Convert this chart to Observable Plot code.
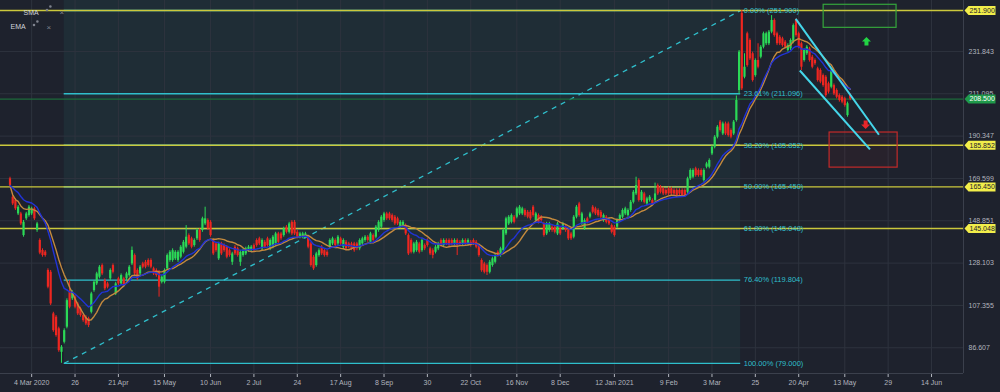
<!DOCTYPE html>
<html><head><meta charset="utf-8">
<script src="https://cdn.jsdelivr.net/npm/d3@7"></script>
<script src="https://cdn.jsdelivr.net/npm/@observablehq/plot@0.6"></script>
<style>
html,body{margin:0;padding:0;background:#1e222d;overflow:hidden;}
#chart svg{display:block}
</style></head><body><div id="chart"></div>
<script>
// ---- Data (candle index 0 = first session shown) ----
const open=[169.4,160.4,158.8,152.2,152.2,141.6,149.8,151.4,152.2,154.7,
144.1,139.2,134.3,133.5,124.5,123.6,103.2,101.6,95.9,84.4,
89.3,96.7,113.8,110.6,111.4,108.1,105.7,102.4,101.6,100.8,
104.0,114.6,117.9,121.2,126.9,119.5,117.9,120.4,126.9,113.0,
120.4,117.9,120.4,120.4,122.0,127.7,131.8,124.5,122.8,127.7,
128.5,129.4,129.4,125.3,124.5,123.6,118.7,118.7,125.3,129.4,
129.4,130.2,129.4,131.0,133.4,135.9,141.6,140.0,136.7,140.0,
144.1,144.1,147.3,149.0,148.1,139.2,137.5,130.2,137.5,136.7,
135.9,134.2,128.5,135.9,135.1,128.5,131.8,132.6,134.2,134.2,
136.7,139.2,140.0,135.1,138.3,140.0,135.1,135.9,137.5,142.4,
142.4,141.6,145.7,143.2,148.1,148.1,143.2,140.8,140.8,140.8,
140.8,137.5,131.0,126.9,131.8,135.9,134.2,133.4,135.9,137.5,
139.2,137.5,140.0,135.9,138.3,137.5,137.5,137.5,137.5,135.1,
137.5,139.2,140.8,138.3,141.6,140.8,144.1,145.7,149.0,152.2,
152.2,151.4,150.6,149.8,145.7,146.5,146.5,141.6,139.2,133.4,
134.2,137.5,134.2,136.7,139.2,135.1,134.2,133.4,135.1,139.2,
136.7,139.2,139.2,139.2,137.5,139.2,138.3,137.5,139.2,137.5,
138.3,139.2,138.3,136.7,129.4,127.7,126.9,123.6,126.9,128.5,
133.4,131.8,134.2,142.4,147.3,148.1,150.6,150.6,152.2,152.2,
153.9,153.0,153.0,155.5,149.0,151.4,150.6,147.3,142.4,144.1,
145.7,145.7,142.4,144.9,144.9,145.7,144.1,142.4,140.8,150.6,
157.1,147.3,144.9,149.8,150.6,155.5,154.7,153.9,153.0,149.0,
150.6,149.0,146.5,145.7,145.7,149.0,150.6,152.2,151.4,153.9,
157.9,162.0,168.6,158.8,162.0,157.1,158.8,158.8,158.8,166.1,
165.3,164.5,163.7,164.5,164.5,163.7,163.7,163.7,163.7,163.7,
162.8,169.4,170.2,174.3,173.5,173.5,168.6,175.1,175.1,181.6,
184.9,189.8,197.2,191.4,196.3,196.3,193.1,191.4,198.0,212.7,
250.5,219.2,240.5,237.2,230.7,220.0,227.4,229.0,233.9,235.6,
235.6,241.3,247.0,240.5,238.8,238.0,236.4,232.3,233.1,236.4,
247.0,240.5,235.6,227.4,230.7,233.1,229.0,227.4,223.3,222.5,
220.0,219.2,216.0,214.3,215.1,212.7,210.2,209.4,208.6,200.4,
210.2];
const close=[166.1,157.1,154.7,155.5,147.3,148.1,152.2,155.5,154.7,149.8,
147.3,133.0,131.8,131.8,116.3,108.1,95.0,92.6,85.2,86.9,
95.0,109.7,106.5,113.8,106.5,103.2,102.4,99.9,98.3,97.5,
113.0,118.7,122.8,126.1,122.8,115.5,116.3,124.5,123.6,117.9,
117.9,122.0,117.1,122.8,126.1,134.3,122.8,120.4,126.1,126.1,
126.1,126.9,126.1,122.8,122.0,116.3,121.2,124.5,131.8,133.4,
134.2,133.4,133.4,135.9,138.3,140.8,137.5,135.9,139.2,144.1,
139.2,149.8,149.8,144.9,141.6,132.6,134.2,137.5,132.6,134.2,
131.0,131.8,132.6,132.6,131.8,133.4,134.2,135.1,135.9,135.9,
134.2,136.7,137.5,139.2,135.9,136.7,139.2,140.8,142.4,138.3,
140.0,144.9,143.2,147.3,142.4,142.4,140.8,142.4,142.4,142.4,
135.9,126.9,125.3,132.6,134.2,132.6,131.8,131.8,139.2,140.0,
136.7,140.8,137.5,139.2,135.1,135.9,135.1,134.2,135.1,139.2,
140.0,140.8,139.2,142.4,139.2,145.7,148.1,150.6,152.2,149.8,
149.8,149.0,147.3,147.3,148.1,148.1,142.4,132.6,133.4,137.5,
138.3,133.4,139.2,135.1,136.7,132.6,131.8,135.9,137.5,136.7,
139.2,137.5,136.7,137.5,139.2,136.7,137.5,139.2,137.5,139.2,
136.7,137.5,135.9,131.8,124.4,123.6,123.6,128.5,130.2,131.8,
131.8,135.1,144.1,149.8,150.6,151.4,148.1,154.7,155.5,154.7,
151.4,150.6,149.8,151.4,152.2,148.1,149.0,141.6,147.3,147.3,
144.1,143.2,147.3,142.4,147.3,144.1,140.0,140.0,150.6,155.5,
151.4,152.2,148.9,148.1,152.2,153.0,152.2,151.4,150.6,151.4,
148.1,147.3,143.2,141.6,149.0,151.4,153.9,154.7,153.9,157.9,
162.8,166.1,158.8,162.8,157.9,159.6,160.4,157.1,162.0,162.0,
162.8,162.0,162.0,162.0,162.0,162.0,161.2,162.0,161.2,161.2,
169.4,173.5,173.5,171.0,171.0,171.0,173.5,176.7,178.4,184.9,
189.8,194.7,193.1,196.3,191.4,190.6,189.8,197.2,207.8,231.5,
213.5,224.1,224.9,228.2,217.6,227.4,224.1,233.9,240.5,240.5,
241.3,247.0,239.6,235.6,235.6,234.7,233.9,234.7,237.2,244.5,
239.6,233.9,224.1,232.3,233.9,227.4,224.1,225.8,217.6,216.8,
215.1,210.2,211.9,222.5,211.0,209.4,207.8,207.0,205.3,206.2,
208.5];
const high=[170.2,161.2,159.6,156.3,153.0,149.0,153.0,156.3,155.5,155.5,
148.1,140.0,135.1,134.3,125.3,124.5,104.0,102.4,96.7,87.7,
95.9,110.6,119.5,114.6,112.2,108.9,106.5,103.2,102.4,101.6,
113.8,119.5,123.6,126.9,127.7,120.4,118.7,125.3,127.7,118.7,
121.2,122.8,121.2,123.6,126.9,136.0,132.6,125.3,126.9,128.5,
129.4,130.2,130.2,126.1,125.3,124.5,122.0,125.3,132.6,134.2,
135.1,134.2,134.2,136.7,139.2,146.5,142.4,140.8,140.0,144.9,
144.9,150.6,155.5,149.8,148.9,140.0,138.3,138.3,138.3,137.5,
136.7,135.1,133.4,136.7,135.9,134.2,135.1,135.9,136.7,136.7,
137.5,140.0,140.8,140.0,139.2,140.8,140.0,141.6,143.2,143.2,
143.2,145.7,146.5,148.1,148.9,149.0,144.1,143.2,143.2,143.2,
141.6,138.3,131.8,133.4,135.1,136.7,135.1,134.2,140.0,140.8,
140.0,141.6,140.8,140.0,139.2,138.3,138.3,138.3,138.3,140.0,
140.8,141.6,141.6,143.2,142.4,146.5,148.9,151.4,153.0,153.0,
153.0,152.2,151.4,150.6,148.9,148.9,147.3,142.4,140.0,138.3,
139.2,138.3,140.0,137.5,140.0,135.9,135.1,136.7,138.3,140.0,
140.0,140.0,140.0,140.0,140.0,140.0,139.2,140.0,140.0,140.0,
139.2,140.0,139.2,137.5,130.2,128.5,127.7,129.4,131.0,132.6,
134.2,135.9,144.9,150.6,151.4,152.2,151.4,155.5,156.3,155.5,
154.7,153.9,153.9,156.3,153.0,152.2,151.4,148.1,148.1,148.1,
146.5,146.5,148.1,145.7,148.1,146.5,144.9,143.2,151.4,156.3,
157.9,153.0,149.8,150.6,153.0,156.3,155.5,154.7,153.9,152.2,
151.4,149.8,147.3,146.5,149.8,152.2,154.7,155.5,154.7,158.8,
163.7,170.2,169.4,163.7,162.8,160.4,161.2,159.6,167.3,166.9,
166.1,165.3,164.5,165.3,165.3,164.5,164.5,164.5,164.5,164.5,
170.2,174.3,174.3,175.1,174.3,174.3,174.3,177.5,179.2,185.7,
190.6,195.5,198.0,197.2,197.2,197.2,193.9,198.0,210.0,232.3,
251.9,230.7,241.3,238.0,231.5,228.2,235.6,234.7,241.3,241.3,
242.1,249.4,247.8,241.3,239.6,238.8,237.2,235.6,238.0,245.3,
247.8,241.3,236.4,233.1,234.7,233.9,229.9,228.2,224.1,223.3,
220.8,220.0,216.8,223.3,215.9,213.5,211.0,210.2,209.4,207.0,
211.0];
const low=[165.3,156.3,153.9,151.4,146.5,140.8,149.0,150.6,151.4,149.0,
143.2,132.2,131.0,131.0,115.5,107.3,94.2,91.8,84.4,79.0,
88.5,95.9,105.7,109.8,105.7,102.4,101.6,99.1,97.5,96.5,
103.2,113.8,117.1,120.4,122.0,114.6,115.5,119.5,122.8,112.2,
117.1,117.1,116.3,119.5,121.2,126.9,122.0,119.5,122.0,125.3,
125.3,126.1,125.3,122.0,121.2,111.4,117.9,117.9,124.5,128.5,
128.5,129.4,128.5,130.2,132.6,135.1,136.7,135.1,135.9,139.2,
138.3,143.2,146.5,144.1,140.8,131.8,133.4,129.4,131.8,133.4,
130.2,131.0,127.0,131.8,131.0,126.5,131.0,131.8,133.4,133.4,
133.4,135.9,136.7,134.2,135.1,135.9,134.2,135.1,136.7,137.5,
139.2,140.8,142.4,142.4,141.6,141.6,140.0,140.0,140.0,140.0,
135.1,126.1,124.5,126.1,131.0,131.8,131.0,131.0,135.1,136.7,
135.9,136.7,136.7,135.1,134.2,135.1,134.2,133.4,134.2,134.2,
136.7,138.3,138.3,137.5,138.3,140.0,143.2,144.9,148.1,149.0,
149.0,148.1,146.5,146.5,144.9,145.7,141.6,131.8,132.6,132.6,
133.4,132.6,133.4,134.2,135.9,131.8,130.2,132.6,134.2,135.9,
135.9,136.7,135.9,136.7,136.7,131.8,136.7,136.7,136.7,136.7,
135.9,136.7,135.1,131.0,123.6,122.8,122.0,122.8,126.1,127.7,
131.0,131.0,133.4,141.6,146.5,147.3,147.3,149.8,151.4,151.4,
150.6,149.8,149.0,150.6,148.1,147.3,148.1,140.8,141.6,143.2,
143.2,142.4,141.6,141.6,144.1,143.2,139.2,139.2,140.0,149.8,
150.6,146.5,144.1,147.3,149.8,152.2,151.4,150.6,149.8,148.1,
147.3,146.5,142.4,140.8,144.9,148.1,149.8,151.4,150.6,153.0,
157.1,161.2,158.0,158.0,157.1,156.3,158.0,156.3,158.0,161.2,
162.0,161.2,161.2,161.2,161.2,161.2,160.4,161.2,160.4,160.4,
162.0,168.6,169.4,170.2,170.2,170.2,167.8,174.3,174.3,180.8,
184.1,189.0,192.3,190.6,190.6,189.8,189.0,190.6,197.2,211.0,
212.7,218.4,224.1,227.4,216.8,219.2,223.3,228.2,233.1,234.7,
234.7,240.5,238.8,234.7,234.7,233.9,233.1,231.5,232.3,235.6,
238.8,233.1,222.5,226.6,229.9,226.6,223.3,225.0,216.8,216.0,
214.3,209.4,211.0,213.5,210.2,208.6,207.0,206.2,204.5,199.6,
207.7];

const tickIdx=[8,24,40,57,74,90,106,122,138,154,170,187,203,223,243,259,275,291,308,324,340];
const tickLabels=["4 Mar 2020","26","21 Apr","15 May","10 Jun","2 Jul","24","17 Aug","8 Sep","30","22 Oct","16 Nov","8 Dec","12 Jan 2021","9 Feb","3 Mar","25","20 Apr","13 May","29","14 Jun"];
const yTicks=[86.607,107.355,128.103,148.851,169.599,190.347,211.095,231.843];

const fibPct=["0.00%","23.61%","38.20%","50.00%","61.80%","76.40%","100.00%"];
const fibVal=[251.9,211.096,185.852,165.45,145.048,119.804,79];
const fibStart=20, fibEnd=269.6;
const levelLines=[251.9,185.852,165.45,145.048];
const lastPrice=208.5;

const chanX1=[289.9,291.4], chanY1=[247.8,222.5], chanX2=[320.6,317.3], chanY2=[191,183.8];
const boxX1=[300.2,302.4], boxX2=[327.1,327.5], boxY1=[243.4,174.9], boxY2=[254.7,192.1];
const boxColor=["#35a53c","#c42a2a"];
const arrowX=[316,315.7], arrowY=[236.7,196];
const maPeriod=15;
const legendNames=["SMA","EMA"];
const xDomain=[-3.5,351.8], yDomain=[74.0,256.8];

// ---- helpers ----
const xLabel=new Map(tickIdx.map((d,i)=>[d,tickLabels[i]]));
const candles=close.map((c,i)=>({i,o:open[i],c,h:high[i],l:low[i]}));
const GREEN="#2bd957", RED="#ee2620";
const col=d=>d.c>=d.o?GREEN:RED;
const sma=v=>v.map((_,i)=>d3.mean(v.slice(Math.max(0,i-maPeriod+1),i+1)));
const ema=v=>{const a=2/(maPeriod+1);let e=v[0];return v.map((x,i)=>(e=i?a*x+(1-a)*e:x));};

const tag={draw(c){c.moveTo(0,0);c.lineTo(4,-4.5);c.lineTo(31,-4.5);c.lineTo(31,4.5);c.lineTo(4,4.5);c.closePath();}};
const upArrow={draw(c){c.moveTo(0,-4.5);c.lineTo(4.5,0);c.lineTo(2,0);c.lineTo(2,4);c.lineTo(-2,4);c.lineTo(-2,0);c.lineTo(-4.5,0);c.closePath();}};
const downArrow={draw(c){c.moveTo(0,4.5);c.lineTo(4.5,0);c.lineTo(2,0);c.lineTo(2,-4);c.lineTo(-2,-4);c.lineTo(-2,0);c.lineTo(-4.5,0);c.closePath();}};
const eyeIcon={draw(c){c.moveTo(-1.5,1.5);c.arc(-1.5,1.5,1.3,0,2*Math.PI);c.moveTo(3.2,-2);c.arc(1.9,-2,1.3,0,2*Math.PI);}};
const one=[0];
const FIB="#2fbfcc", YEL="#cbc83c", GRID="#2e333e", ICON="#7f838e";

const chart=Plot.plot({
  width:1000,height:392,
  marginLeft:0,marginRight:37,marginTop:0,marginBottom:19,
  style:{background:"#1e222d",color:"#b2b5be",fontFamily:"'Liberation Sans', Arial, sans-serif",fontSize:"7px"},
  x:{domain:xDomain,ticks:tickIdx,tickFormat:d=>xLabel.get(d),tickSize:4,tickPadding:3,label:null},
  y:{domain:yDomain,axis:"right",ticks:yTicks,tickFormat:d=>d.toFixed(3),tickSize:0,tickPadding:5,label:null},
  color:{type:"identity"},
  marks:[
    Plot.rect(one,{x1:()=>fibStart,x2:()=>fibEnd,y1:()=>fibVal[6],y2:()=>yDomain[1],fill:"#1f2d36"}),
    Plot.ruleX(tickIdx,{stroke:GRID}),
    Plot.ruleY(yTicks,{stroke:GRID}),
    Plot.ruleY(fibVal,{x1:()=>fibStart,x2:()=>fibEnd,stroke:FIB,strokeWidth:1.3}),
    Plot.link(one,{x1:()=>fibStart,y1:()=>fibVal[6],x2:()=>fibEnd,y2:()=>fibVal[0],stroke:FIB,strokeWidth:1.3,strokeDasharray:"5,5"}),
    Plot.ruleY(levelLines,{stroke:YEL,strokeWidth:1.4}),
    Plot.ruleY([lastPrice],{stroke:"#1c6a3a",strokeWidth:1.2}),
    Plot.rect([0,1],{x1:i=>boxX1[i],x2:i=>boxX2[i],y1:i=>boxY1[i],y2:i=>boxY2[i],stroke:i=>boxColor[i],fill:i=>boxColor[i],fillOpacity:0.06,strokeWidth:1.2}),
    Plot.ruleX(candles,{x:"i",y1:"l",y2:"h",stroke:col,strokeWidth:1}),
    Plot.ruleX(candles,{x:"i",y1:"o",y2:"c",stroke:col,strokeWidth:2.2}),
    Plot.line(close,Plot.mapY(sma,{x:(d,i)=>i,y:d=>d,stroke:"#c48a3e",strokeWidth:1.4})),
    Plot.line(close,Plot.mapY(ema,{x:(d,i)=>i,y:d=>d,stroke:"#2133d6",strokeWidth:1.4})),
    Plot.link([0,1],{x1:i=>chanX1[i],y1:i=>chanY1[i],x2:i=>chanX2[i],y2:i=>chanY2[i],stroke:"#45d6ea",strokeWidth:2}),
    Plot.dot(one,{x:()=>arrowX[0],y:()=>arrowY[0],symbol:upArrow,fill:"#22d444",stroke:"none",r:4}),
    Plot.dot(one,{x:()=>arrowX[1],y:()=>arrowY[1],symbol:downArrow,fill:"#e8262a",stroke:"none",r:4}),
    Plot.text(fibVal,{x:()=>fibEnd,y:d=>d,dx:3,textAnchor:"start",text:(d,i)=>`${fibPct[i]} (${d.toFixed(3)})`,fill:FIB,fontSize:7.5}),
    Plot.ruleY([yDomain[0]],{stroke:"#3b404c"}),
    Plot.ruleX([xDomain[1]],{stroke:"#3b404c"}),
    Plot.dot(levelLines,{y:d=>d,frameAnchor:"right",dx:1,symbol:tag,fill:"#f2ee4a",stroke:"none",r:4}),
    Plot.text(levelLines,{y:d=>d,frameAnchor:"right",dx:6,textAnchor:"start",text:d=>d.toFixed(3),fill:"#1e222d",fontSize:7}),
    Plot.dot([lastPrice],{y:d=>d,frameAnchor:"right",dx:1,symbol:tag,fill:"#1f9a4a",stroke:"none",r:4}),
    Plot.text([lastPrice],{y:d=>d,frameAnchor:"right",dx:6,textAnchor:"start",text:d=>d.toFixed(3),fill:"#ffffff",fontSize:7}),
    // legend
    Plot.text([legendNames[0]],{frameAnchor:"top-left",dx:23,dy:10,textAnchor:"start",fill:"#d1d4dc",fontSize:7}),
    Plot.text([legendNames[1]],{frameAnchor:"top-left",dx:10,dy:24,textAnchor:"start",fill:"#d1d4dc",fontSize:7}),
    Plot.dot(one,{frameAnchor:"top-left",dx:48,dy:8,symbol:eyeIcon,fill:ICON,stroke:"none",r:3}),
    Plot.dot(one,{frameAnchor:"top-left",dx:35,dy:23,symbol:eyeIcon,fill:ICON,stroke:"none",r:3}),
    Plot.text(["×"],{frameAnchor:"top-left",dx:59,dy:9,fill:ICON,fontSize:8}),
    Plot.text(["×"],{frameAnchor:"top-left",dx:46,dy:24,fill:ICON,fontSize:8})
  ]
});
document.getElementById("chart").append(chart);
</script>
</body></html>
